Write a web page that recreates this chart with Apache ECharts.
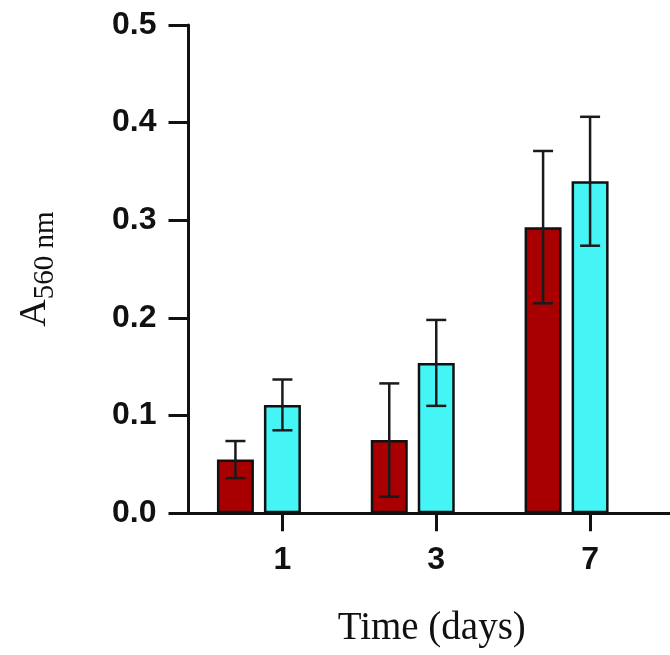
<!DOCTYPE html>
<html>
<head>
<meta charset="utf-8">
<script src="https://cdn.jsdelivr.net/npm/echarts@6/dist/echarts.min.js"></script>
<style>
html,body{margin:0;padding:0;background:#fff;}
#chart{width:670px;height:655px;}
</style>
</head>
<body>
<div id="chart"></div>
<script>
// ---- data ----
const categories = ['1', '3', '7'];
const redMean = [0.055, 0.075, 0.293];
const redErr = [0.019, 0.058, 0.078];
const cyanMean = [0.111, 0.154, 0.340];
const cyanErr = [0.026, 0.044, 0.066];
const yTicks = [0, 0.1, 0.2, 0.3, 0.4, 0.5];

// ---- style ----
const BAR_W = 37;
const GAP = 0.27;
const RED = '#a80000';
const CYAN = '#45f5f5';

const chart = echarts.init(document.getElementById('chart'));

function errRender(offsetBars) {
  return function (params, api) {
    const idx = api.value(0);
    const mean = api.value(1);
    const err = api.value(2);
    const hi = api.coord([idx, mean + err]);
    const lo = api.coord([idx, mean - err]);
    const x = hi[0] + offsetBars * BAR_W * (1 + GAP);
    const cap = 10;
    const st = { stroke: '#1a1a1a', lineWidth: 2.5 };
    return {
      type: 'group',
      children: [
        { type: 'line', shape: { x1: x, y1: hi[1], x2: x, y2: lo[1] }, style: st },
        { type: 'line', shape: { x1: x - cap, y1: hi[1], x2: x + cap, y2: hi[1] }, style: st },
        { type: 'line', shape: { x1: x - cap, y1: lo[1], x2: x + cap, y2: lo[1] }, style: st }
      ]
    };
  };
}

const option = {
  animation: false,
  backgroundColor: '#fff',
  grid: [
    { left: 205.5, right: 3, top: 25, bottom: 141.7 },
    { left: 188.5, right: 0, top: 25, bottom: 141.7 }
  ],
  xAxis: [
    {
      type: 'category', gridIndex: 0, data: categories,
      axisLine: { show: false },
      axisTick: { show: true, alignWithLabel: true, length: 18, lineStyle: { color: '#111', width: 3 } },
      axisLabel: { margin: 31, fontFamily: 'Liberation Sans, Arial, sans-serif', fontWeight: 'bold', fontSize: 32, color: '#111' },
      splitLine: { show: false }
    },
    {
      type: 'value', gridIndex: 1, min: 0, max: 1,
      axisLine: { show: true, lineStyle: { color: '#111', width: 3 } },
      axisTick: { show: false }, axisLabel: { show: false }, splitLine: { show: false },
      name: 'Time (days)', nameLocation: 'middle', nameGap: 96,
      nameTextStyle: { fontFamily: 'Liberation Serif, Times New Roman, serif', fontSize: 39, color: '#111', padding: [0, 0, 0, 5] }
    }
  ],
  yAxis: [
    {
      type: 'value', gridIndex: 0, min: 0, max: 0.5, interval: 0.1, offset: 17,
      axisLine: { show: true, lineStyle: { color: '#111', width: 3 } },
      axisTick: { show: true, length: 20, lineStyle: { color: '#111', width: 3 } },
      axisLabel: {
        margin: 32, fontFamily: 'Liberation Sans, Arial, sans-serif', fontWeight: 'bold', fontSize: 32, color: '#111',
        formatter: v => yTicks.includes(Math.round(v * 10) / 10) ? v.toFixed(1) : ''
      },
      splitLine: { show: false },
      name: '{a|A}{b|560 nm}', nameLocation: 'middle', nameRotate: 90, nameGap: 129,
      nameTextStyle: {
        color: '#111',
        rich: {
          a: { fontFamily: 'Liberation Serif, Times New Roman, serif', fontSize: 38, color: '#111', padding: [0, 0, 5, 0], verticalAlign: 'bottom' },
          b: { fontFamily: 'Liberation Serif, Times New Roman, serif', fontSize: 29, color: '#111', verticalAlign: 'bottom' }
        }
      }
    },
    { type: 'value', gridIndex: 1, show: false, min: 0, max: 1 }
  ],
  series: [
    {
      type: 'bar', xAxisIndex: 0, yAxisIndex: 0, data: redMean,
      barWidth: BAR_W, barGap: (GAP * 100) + '%',
      itemStyle: { color: RED, borderColor: '#111', borderWidth: 2.5 }
    },
    {
      type: 'bar', xAxisIndex: 0, yAxisIndex: 0, data: cyanMean,
      barWidth: BAR_W, barGap: (GAP * 100) + '%',
      itemStyle: { color: CYAN, borderColor: '#111', borderWidth: 2.5 }
    },
    {
      type: 'bar', xAxisIndex: 0, yAxisIndex: 0, data: categories.map(() => '-'),
      barWidth: BAR_W, barGap: (GAP * 100) + '%',
      itemStyle: { color: 'transparent' }, silent: true
    },
    {
      type: 'custom', xAxisIndex: 0, yAxisIndex: 0, z: 5,
      renderItem: errRender(-1),
      encode: { x: 0, y: 1 },
      data: categories.map((c, i) => [c, redMean[i], redErr[i]])
    },
    {
      type: 'custom', xAxisIndex: 0, yAxisIndex: 0, z: 5,
      renderItem: errRender(0),
      encode: { x: 0, y: 1 },
      data: categories.map((c, i) => [c, cyanMean[i], cyanErr[i]])
    }
  ]
};
chart.setOption(option);
</script>
</body>
</html>
